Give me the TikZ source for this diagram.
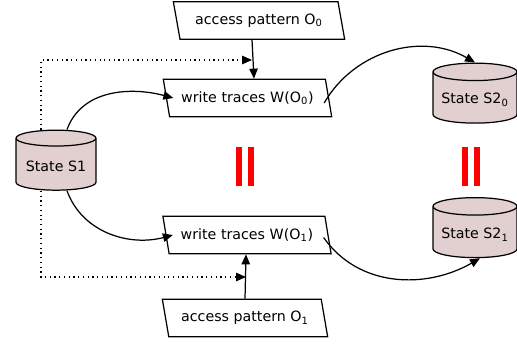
\documentclass[tikz,border=0pt]{standalone}
\usepackage{fontspec}
\setmainfont{DejaVu Sans}
\usetikzlibrary{positioning,arrows.meta,shapes.geometric}

\begin{document}
\begin{tikzpicture}[
    x=0.02cm, y=-0.02cm,
    font=\fontsize{8.1}{9.5}\selectfont,
    pat/.style={draw, trapezium, trapezium left angle=108, trapezium right angle=72,
                trapezium stretches=true, minimum width=3.38cm, minimum height=0.75cm,
                line width=0.7pt, inner sep=1pt},
    state/.style={draw, cylinder, shape border rotate=90, aspect=0.22,
                  fill=red!25!gray!30, line width=0.7pt,
                  minimum width=1.6cm, minimum height=1.2cm},
    arr/.style={-{Triangle[length=2mm, width=1.7mm]}, line width=0.7pt},
    dotarr/.style={arr, dotted, line width=0.8pt},
    eq/.style={fill=red}
  ]
    \useasboundingbox (0,0) rectangle (517,346);
    \node[pat, minimum width=3.44cm] (acc0) at (259,20.5) {access pattern O\textsubscript{0}};
    \node[pat] (wt0) at (247.5,98) {write traces W(O\textsubscript{0})};
    \node[pat] (wt1) at (247,235) {write traces W(O\textsubscript{1})};
    \node[pat, minimum width=3.32cm] (acc1) at (245,318) {access pattern O\textsubscript{1}};
    \node[state] (s1) at (56,166.5) {State S1};
    \node[state, minimum width=1.68cm] (s20) at (475,100) {State S2\textsubscript{0}};
    \node[state, minimum width=1.68cm] (s21) at (475,234.5) {State S2\textsubscript{1}};
    \coordinate (d0) at (252,60);
    \coordinate (d1) at (246,277);
    % equal signs
    \fill[eq] (236,147) rectangle (242,186);
    \fill[eq] (248,147) rectangle (254,186);
    \fill[eq] (462,147) rectangle (468,186);
    \fill[eq] (474,147) rectangle (480,186);
    \draw[arr] (acc0.south -| 252,0) -- (wt0.north -| 254,0);
    \draw[arr] (acc1.north -| 245,0) -- (wt1.south -| 246,0);
    \draw[arr] ([xshift=0.22cm]s1.north) to[out=70, in=165] ([xshift=0.15cm]wt0.west);
    \draw[arr] ([xshift=0.22cm]s1.south) to[out=-70, in=-165] ([xshift=0.15cm]wt1.west);
    \draw[arr] ([xshift=-0.1cm, yshift=-0.1cm]wt0.east) to[out=60, in=150] (s20.north);
    \draw[arr] ([xshift=-0.1cm, yshift=-0.05cm]wt1.east) to[out=-55, in=-150] ([xshift=0.1cm]s21.south);
    \draw[dotarr] ([xshift=-0.3cm]s1.north) |- (d0);
    \draw[dotarr] ([xshift=-0.3cm]s1.south) |- (d1);
  \end{tikzpicture}
\end{document}
